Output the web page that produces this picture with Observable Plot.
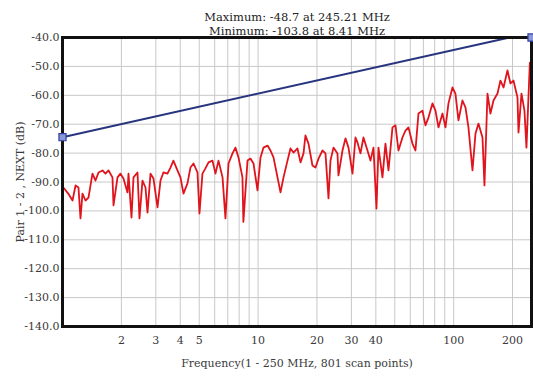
<!DOCTYPE html>
<html>
<head>
<meta charset="utf-8">
<script src="https://cdn.jsdelivr.net/npm/d3@7"></script>
<script src="https://cdn.jsdelivr.net/npm/@observablehq/plot@0.6"></script>
<style>
  html, body { margin: 0; padding: 0; background: #fff; }
</style>
</head>
<body>
<div id="chart"></div>
<script>
const titleLines = ["Maximum: -48.7 at 245.21 MHz", "Minimum: -103.8 at 8.41 MHz"];
const xLabel = "Frequency(1 - 250 MHz, 801 scan points)";
const yLabel = "Pair 1 - 2 , NEXT (dB)";
const xTickValues = [2, 3, 4, 5, 10, 20, 30, 40, 100, 200];
const xGridValues = [2, 3, 4, 5, 6, 7, 8, 9, 10, 20, 30, 40, 50, 60, 70, 80, 90, 100, 200];
const yTickValues = [-40, -50, -60, -70, -80, -90, -100, -110, -120, -130, -140];

// Measured NEXT (red)
const measFreq = [1.01,1.07,1.125,1.166,1.207,1.236,1.265,1.311,1.358,1.423,1.475,1.528,1.602,1.659,1.719,1.801,1.823,1.911,1.979,2.05,
  2.149,2.175,2.253,2.307,2.418,2.475,2.564,2.657,2.72,2.818,2.919,3.06,3.17,3.28,3.44,3.565,3.69,3.87,4.01,4.155,
  4.355,4.51,4.675,4.9,5.015,5.195,5.38,5.58,5.845,6.055,6.275,6.58,6.81,7.06,7.4,7.66,7.94,8.32,8.41,8.83,
  9.14,9.475,9.93,10.29,10.66,11.17,11.57,11.99,12.57,13.02,13.49,14.14,14.64,15.17,15.9,16.48,17.07,17.47,18.1,18.97,
  19.66,20.37,21.34,22.11,22.91,23.45,24.29,25.46,25.76,27.01,27.98,28.99,30.39,31.47,32.23,33.38,34.58,36.25,37.55,38.9,
  40.3,41.26,43.25,44.8,46.42,48.66,50.4,52.21,54.72,56.69,58.73,61.56,63.77,66.07,69.25,71.74,74.32,77.91,80.72,83.61,
  87.65,90.8,94.06,98.6,102.1,105.8,110.9,114.9,119.0,124.8,129.3,133.9,140.4,143.7,148.9,154.2,159.8,167.5,173.5,179.8,
  188.4,195.2,202.2,212.0,214.5,222.2,230.1,235.6,241.2,245.21,250];
const measDb = [-91.9,-94.0,-96.4,-91.2,-91.9,-102.6,-94.0,-96.4,-95.4,-87.1,-89.5,-86.7,-86.0,-87.1,-86.0,-88.4,-98.1,-88.4,-87.1,-88.8,
  -93.6,-87.1,-102.3,-88.4,-86.7,-102.6,-89.5,-91.9,-100.6,-87.1,-88.8,-98.8,-89.5,-86.7,-87.1,-85.0,-82.6,-86.0,-88.4,-94.0,
  -90.5,-85.0,-83.6,-86.7,-100.9,-87.1,-85.3,-83.2,-82.6,-87.1,-82.6,-88.4,-102.6,-83.6,-80.1,-78.1,-81.5,-88.4,-103.8,-82.6,
  -81.9,-83.6,-92.9,-81.5,-78.1,-77.4,-79.1,-81.5,-88.4,-93.6,-88.4,-82.6,-78.4,-79.8,-78.4,-83.2,-80.1,-73.9,-76.7,-84.3,
  -85.0,-81.9,-79.1,-80.1,-95.7,-82.6,-78.1,-80.1,-87.7,-79.1,-74.9,-78.1,-87.1,-74.6,-76.3,-80.1,-74.6,-79.1,-82.6,-78.1,
  -99.2,-78.1,-88.4,-76.7,-86.0,-71.1,-70.4,-79.1,-74.6,-72.2,-71.1,-76.7,-79.1,-66.3,-65.3,-70.4,-67.7,-62.8,-65.3,-71.1,
  -66.3,-71.1,-62.8,-57.3,-59.4,-68.7,-61.8,-64.2,-71.1,-86.0,-73.2,-69.8,-74.6,-91.2,-59.4,-66.3,-61.8,-59.4,-54.9,-57.3,
  -51.4,-55.9,-54.9,-60.8,-72.9,-59.4,-65.3,-78.1,-60.8,-48.7,-53.0];

// Limit line (blue)
const limitFreq = [1, 193, 250];
const limitDb = [-74.5, -40, -40];
const markerFreq = [1, 250];
const markerDb = [-74.5, -40];

const meas = measFreq.map((f, i) => ({f, db: measDb[i]}));
const limit = limitFreq.map((f, i) => ({f, db: limitDb[i]}));
const markers = markerFreq.map((f, i) => ({f, db: markerDb[i]}));

const FONT = "'DejaVu Serif', serif";
const TXT = "#3a3a3a";

const chart = Plot.plot({
  width: 533,
  height: 376,
  marginLeft: 62,
  marginRight: 2,
  marginTop: 37,
  marginBottom: 50,
  style: {fontFamily: FONT, fontSize: "11px", color: TXT, background: "#fff"},
  x: {type: "log", domain: [1, 250], label: null, axis: null},
  y: {domain: [-140, -40], label: null},
  marks: [
    Plot.gridX(xGridValues, {stroke: "#c8c8c8", strokeOpacity: 1, strokeWidth: 1}),
    Plot.gridY(yTickValues, {stroke: "#c8c8c8", strokeOpacity: 1, strokeWidth: 1}),
    Plot.text(xTickValues, {x: d => d, frameAnchor: "bottom", dy: 17, text: d => String(d), fill: TXT, fontSize: 11}),
    Plot.text([xLabel], {frameAnchor: "bottom", dy: 40, fill: TXT, fontSize: 11}),
    Plot.axisY(yTickValues, {tickSize: 0, tickPadding: 3, tickFormat: d => d.toFixed(1), fill: TXT, fontSize: 11,
      label: yLabel, labelAnchor: "center", labelArrow: "none", labelOffset: 46}),
    Plot.line(meas, {x: "f", y: "db", stroke: "#e0141c", strokeWidth: 1.8, clip: true}),
    Plot.line(limit, {x: "f", y: "db", stroke: "#27347e", strokeWidth: 2, clip: true}),
    Plot.frame({stroke: "#111", strokeWidth: 3}),
    Plot.dot(markers, {x: "f", y: "db", symbol: "square", r: 4, stroke: "#3040a0", fill: "#8a98d8", strokeWidth: 1.2}),
    Plot.text([titleLines[0]], {frameAnchor: "top", dy: -25, fontSize: 11.5, fill: "#222"}),
    Plot.text([titleLines[1]], {frameAnchor: "top", dy: -11, fontSize: 11.5, fill: "#222"})
  ]
});
document.getElementById("chart").appendChild(chart);
</script>
</body>
</html>
